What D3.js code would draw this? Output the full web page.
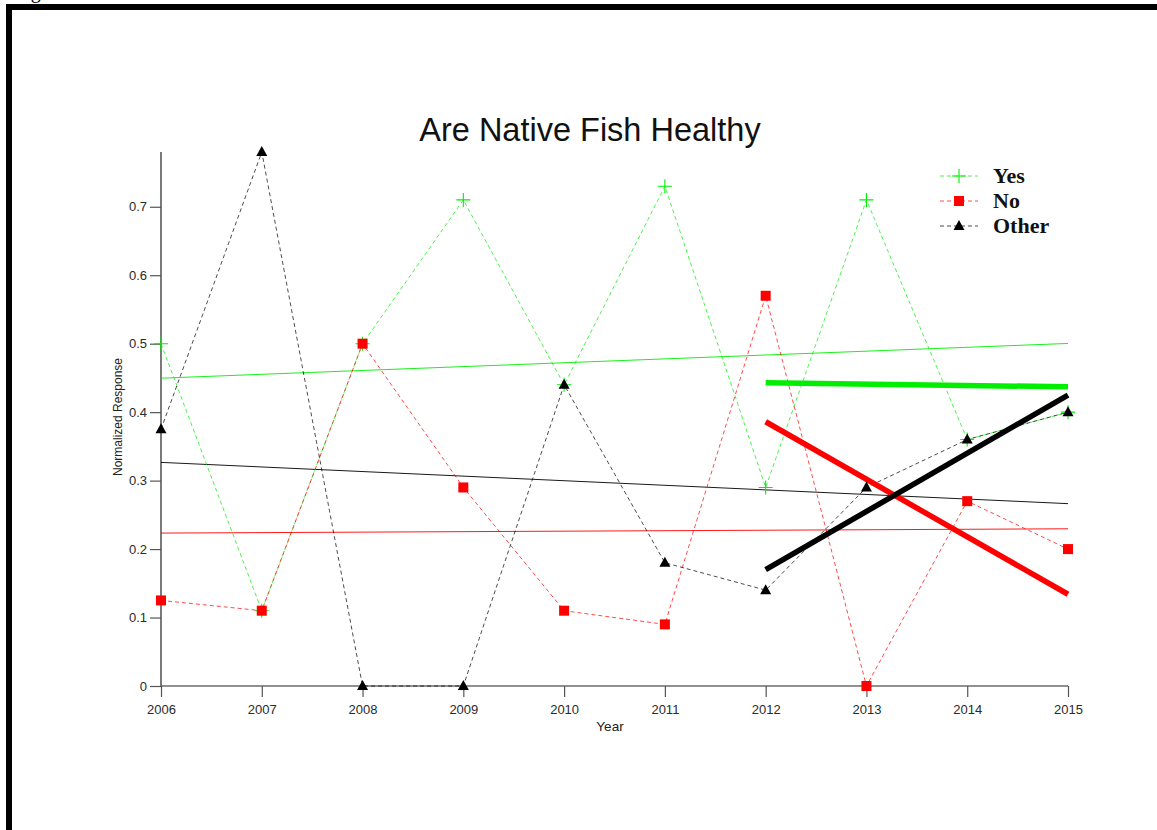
<!DOCTYPE html>
<html>
<head>
<meta charset="utf-8">
<script src="https://cdn.jsdelivr.net/npm/d3@7"></script>
<style>
  html, body { margin: 0; padding: 0; background: #fff; }
  svg { display: block; }
</style>
</head>
<body>
<svg id="chart" width="1157" height="830"></svg>
<script>
// Survey years and normalized answer shares
const years = [2006, 2007, 2008, 2009, 2010, 2011, 2012, 2013, 2014, 2015];
const yesValues   = [0.5, 0.11, 0.5, 0.71, 0.44, 0.73, 0.29, 0.71, 0.36, 0.40];
const noValues    = [0.125, 0.11, 0.5, 0.29, 0.11, 0.09, 0.57, 0, 0.27, 0.20];
const otherValues = [0.375, 0.78, 0, 0, 0.44, 0.18, 0.14, 0.29, 0.36, 0.40];
const yTicks = [0, 0.1, 0.2, 0.3, 0.4, 0.5, 0.6, 0.7];
const recentFrom = 2012;

const seriesList = [
  { name: "Yes",   values: yesValues,   color: "#00ee00", marker: "plus" },
  { name: "No",    values: noValues,    color: "#ff0000", marker: "square" },
  { name: "Other", values: otherValues, color: "#000000", marker: "triangle" }
];

const svg = d3.select("#chart");

const x = d3.scaleLinear().domain([2006, 2015]).range([161, 1068]);
const y = d3.scaleLinear().domain([0, 0.78]).range([686, 152]);

// page frame
svg.append("text").attr("x", 14).attr("y", -2)
  .attr("font-family", "Liberation Serif").attr("font-size", 20).text("Fig");
svg.append("rect").attr("x", 6).attr("y", 4).attr("width", 1151).attr("height", 6).attr("fill", "#000");
svg.append("rect").attr("x", 6).attr("y", 4).attr("width", 6).attr("height", 826).attr("fill", "#000");

// least-squares fit over a subset of years
function fit(xs, ys) {
  const mx = d3.mean(xs), my = d3.mean(ys);
  let sxy = 0, sxx = 0;
  xs.forEach((v, i) => { sxy += (v - mx) * (ys[i] - my); sxx += (v - mx) * (v - mx); });
  const b = sxy / sxx;
  return [[xs[0], my + b * (xs[0] - mx)], [xs[xs.length - 1], my + b * (xs[xs.length - 1] - mx)]];
}

const line = d3.line().x(d => x(d[0])).y(d => y(d[1]));

// axes
const xAxis = svg.append("g").attr("transform", "translate(0,686)")
  .call(d3.axisBottom(x).tickValues(years).tickFormat(d3.format("d")).tickSize(11).tickPadding(8));
const yAxis = svg.append("g").attr("transform", "translate(161,0)")
  .call(d3.axisLeft(y).tickValues(yTicks).tickFormat(d => d === 0 ? "0" : d.toFixed(1)).tickSize(11).tickPadding(3));
[xAxis, yAxis].forEach(g => {
  g.select(".domain").attr("stroke", "#222").attr("stroke-width", 1.2);
  g.selectAll(".tick line").attr("stroke", "#555").attr("stroke-width", 1.2);
  g.selectAll(".tick text").attr("fill", "#2a2a2a").attr("font-family", "Liberation Sans").attr("font-size", 13);
});
// y-axis line spans the full range
yAxis.select(".domain").attr("d", `M0,${y(0)}V${y(0.78)}`);
xAxis.select(".domain").attr("d", `M${x(2006)},0H${x(2015)}`);

// thin full-period trend lines
seriesList.forEach(s => {
  svg.append("path").datum(fit(years, s.values))
    .attr("d", line).attr("fill", "none")
    .attr("stroke", s.color).attr("stroke-width", 1).attr("stroke-opacity", 0.9);
});

// dashed year-to-year lines
seriesList.forEach(s => {
  svg.append("path").datum(years.map((yr, i) => [yr, s.values[i]]))
    .attr("d", line).attr("fill", "none")
    .attr("stroke", s.color).attr("stroke-width", 1).attr("stroke-opacity", 0.7)
    .attr("stroke-dasharray", "4,3");
});

// thick recent-period trend lines
seriesList.forEach(s => {
  const idx = years.map((yr, i) => i).filter(i => years[i] >= recentFrom);
  svg.append("path").datum(fit(idx.map(i => years[i]), idx.map(i => s.values[i])))
    .attr("d", line).attr("fill", "none")
    .attr("stroke", s.color).attr("stroke-width", 5.5);
});

function drawMarker(g, type, cx, cy, color) {
  if (type === "plus") {
    g.append("path").attr("d", `M${cx - 7},${cy}H${cx + 7}M${cx},${cy - 7}V${cy + 7}`)
      .attr("stroke", color).attr("stroke-width", 1.1).attr("fill", "none");
  } else if (type === "square") {
    g.append("rect").attr("x", cx - 5).attr("y", cy - 5).attr("width", 10).attr("height", 10).attr("fill", color);
  } else {
    g.append("path").attr("d", `M${cx},${cy - 6}L${cx + 5.5},${cy + 4}L${cx - 5.5},${cy + 4}Z`).attr("fill", color);
  }
}

// data markers
const markers = svg.append("g");
seriesList.forEach(s => {
  years.forEach((yr, i) => drawMarker(markers, s.marker, x(yr), y(s.values[i]), s.color));
});

// title and axis labels
svg.append("text").attr("x", 590).attr("y", 141).attr("text-anchor", "middle")
  .attr("font-family", "Liberation Sans").attr("font-size", 32.5).attr("fill", "#111")
  .text("Are Native Fish Healthy");
svg.append("text").attr("x", 610).attr("y", 731).attr("text-anchor", "middle")
  .attr("font-family", "Liberation Sans").attr("font-size", 13.5).attr("fill", "#222").text("Year");
svg.append("text").attr("transform", "translate(122,417) rotate(-90)").attr("text-anchor", "middle")
  .attr("font-family", "Liberation Sans").attr("font-size", 12).attr("fill", "#222").text("Normalized Response");

// legend
const legend = svg.append("g");
seriesList.forEach((s, i) => {
  const ly = 176 + i * 25;
  legend.append("line").attr("x1", 940).attr("x2", 978).attr("y1", ly).attr("y2", ly)
    .attr("stroke", s.color).attr("stroke-width", 1).attr("stroke-opacity", 0.7).attr("stroke-dasharray", "4,3");
  drawMarker(legend, s.marker, 959, ly, s.color);
  legend.append("text").attr("x", 993).attr("y", ly + 7)
    .attr("font-family", "Liberation Serif").attr("font-weight", "bold").attr("font-size", 22)
    .attr("fill", "#111").text(s.name);
});
</script>
</body>
</html>
